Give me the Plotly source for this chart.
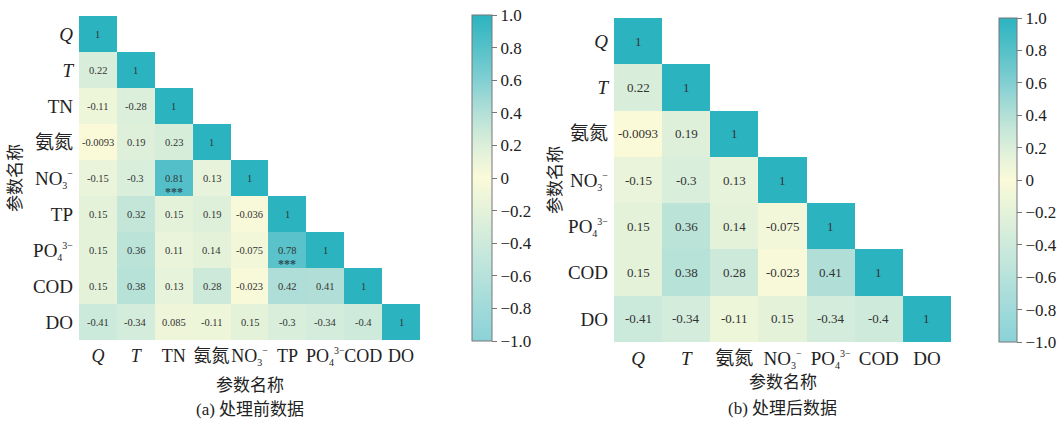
import plotly.graph_objects as go

# ---------------- data ----------------
labels_a = ["<i>Q</i>", "<i>T</i>", "TN", "氨氮", "NO3-", "TP", "PO4-", "COD", "DO"]
rows_a = [
    [1],
    [0.22, 1],
    [-0.11, -0.28, 1],
    [-0.0093, 0.19, 0.23, 1],
    [-0.15, -0.3, 0.81, 0.13, 1],
    [0.15, 0.32, 0.15, 0.19, -0.036, 1],
    [0.15, 0.36, 0.11, 0.14, -0.075, 0.78, 1],
    [0.15, 0.38, 0.13, 0.28, -0.023, 0.42, 0.41, 1],
    [-0.41, -0.34, 0.085, -0.11, 0.15, -0.3, -0.34, -0.4, 1],
]
stars_a = [(4, 2), (6, 5)]  # (row, col) with ***

labels_b = ["<i>Q</i>", "<i>T</i>", "氨氮", "NO3-", "PO4-", "COD", "DO"]
rows_b = [
    [1],
    [0.22, 1],
    [-0.0093, 0.19, 1],
    [-0.15, -0.3, 0.13, 1],
    [0.15, 0.36, 0.14, -0.075, 1],
    [0.15, 0.38, 0.28, -0.023, 0.41, 1],
    [-0.41, -0.34, -0.11, 0.15, -0.34, -0.4, 1],
]

cb_vals = [1.0, 0.8, 0.6, 0.4, 0.2, 0, -0.2, -0.4, -0.6, -0.8, -1.0]
cb_text = ["1.0", "0.8", "0.6", "0.4", "0.2", "0", "−0.2", "−0.4", "−0.6", "−0.8", "−1.0"]

# ---------------- style ----------------
W, H = 1062, 421
SERIF = "Liberation Serif, Times New Roman, Noto Sans CJK SC, serif"
cscale = [[0.0, "#8ad2d8"], [0.25, "#c2e6dc"], [0.5, "#fbfad9"], [0.6, "#dcefda"],
          [0.7, "#b3e0d7"], [0.8, "#82cfd2"], [0.9, "#55c1c9"], [1.0, "#2cb3c0"]]

SMALL = "<span style='font-size:10px'>{}</span>"
pretty = {
    "NO3-": "NO<sub>" + SMALL.format("3") + "</sub><sup>" + SMALL.format("−") + "</sup>",
    "PO4-": "PO<sub>" + SMALL.format("4") + "</sub><sup>" + SMALL.format("3−") + "</sup>",
}


def lab(s):
    return pretty.get(s, s)


def full(rows):
    n = len(rows)
    return [r + [None] * (n - len(r)) for r in rows]


def py(px):
    return 1 - px / H


def px_x(px):
    return px / W


fig = go.Figure()

panels = [
    dict(rows=rows_a, labels=labels_a, stars=stars_a, xd=(79, 420), yd=(16, 340),
         cbx=472, cbw=20, cby=(15, 341), tsize=10.5, xa="x", ya="y",
         ytitle_x=15, caption="(a) 处理前数据", xt_y=385, cap_y=409, xfs=18),
    dict(rows=rows_b, labels=labels_b, stars=[], xd=(614, 951), yd=(18, 342),
         cbx=999, cbw=18, cby=(18, 342), tsize=13, xa="x2", ya="y2",
         ytitle_x=555, caption="(b) 处理后数据", xt_y=382, cap_y=408, xfs=19),
]

annotations = []
for i, p in enumerate(panels):
    z = full(p["rows"])
    n = len(z)
    fig.add_trace(go.Heatmap(
        z=z, x=list(range(n)), y=list(range(n)),
        zmin=-1, zmax=1, colorscale=cscale, hoverinfo="skip",
        xaxis=p["xa"], yaxis=p["ya"],
        colorbar=dict(
            x=px_x(p["cbx"]), xanchor="left", xref="paper",
            y=py(p["cby"][0]), yanchor="top", yref="paper",
            len=p["cby"][1] - p["cby"][0], lenmode="pixels",
            thickness=p["cbw"], thicknessmode="pixels",
            outlinewidth=1, outlinecolor="#777777",
            tickvals=cb_vals, ticktext=cb_text, ticks="outside", ticklen=5,
            tickcolor="#777777", tickfont=dict(family=SERIF, size=17, color="#222"),
            xpad=0, ypad=0,
        ),
    ))
    for r, row in enumerate(p["rows"]):
        for c, v in enumerate(row):
            annotations.append(dict(
                x=c, y=r, xref=p["xa"], yref=p["ya"], text=format(v, ".2g"),
                showarrow=False, font=dict(family=SERIF, size=p["tsize"], color="#333")))
    for (r, c) in p["stars"]:
        annotations.append(dict(
            x=c, y=r, xref=p["xa"], yref=p["ya"], text="<b>***</b>", yshift=-14,
            showarrow=False, font=dict(family=SERIF, size=12, color="#2d4b55")))
    xc = (p["xd"][0] + p["xd"][1]) / 2
    annotations.append(dict(x=px_x(xc), y=py(p["xt_y"]), xref="paper", yref="paper",
                            xanchor="center", yanchor="middle",
                            text="参数名称", showarrow=False,
                            font=dict(family=SERIF, size=17, color="#222")))
    annotations.append(dict(x=px_x(xc), y=py(p["cap_y"]), xref="paper", yref="paper",
                            xanchor="center", yanchor="middle",
                            text=p["caption"], showarrow=False,
                            font=dict(family=SERIF, size=17, color="#222")))
    annotations.append(dict(x=px_x(p["ytitle_x"]), y=py((p["yd"][0] + p["yd"][1]) / 2),
                            xref="paper", yref="paper", xanchor="center", yanchor="middle",
                            text="参数名称", textangle=-90,
                            showarrow=False, font=dict(family=SERIF, size=17, color="#222")))

    ticktext = [lab(s) for s in p["labels"]]
    ax_common = dict(showgrid=False, zeroline=False, showline=False, ticks="",
                     tickangle=0, tickvals=list(range(n)), ticktext=ticktext)
    xkey = "xaxis" if i == 0 else "xaxis2"
    ykey = "yaxis" if i == 0 else "yaxis2"
    fig.update_layout(**{
        xkey: dict(domain=[px_x(p["xd"][0]), px_x(p["xd"][1])], range=[-0.5, n - 0.5],
                   anchor=p["ya"], ticklabelstandoff=3,
                   tickfont=dict(family=SERIF, size=p["xfs"], color="#222"), **ax_common),
        ykey: dict(domain=[py(p["yd"][1]), py(p["yd"][0])], range=[n - 0.5, -0.5],
                   anchor=p["xa"], ticklabelstandoff=5,
                   tickfont=dict(family=SERIF, size=19, color="#222"), **ax_common),
    })

fig.update_layout(
    width=W, height=H, margin=dict(l=0, r=0, t=0, b=0),
    paper_bgcolor="white", plot_bgcolor="rgba(0,0,0,0)",
    annotations=annotations, showlegend=False,
)

fig.write_html("out.html")
